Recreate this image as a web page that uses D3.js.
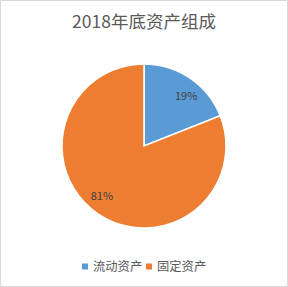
<!DOCTYPE html>
<html><head><meta charset="utf-8">
<script src="https://cdn.jsdelivr.net/npm/d3@7/dist/d3.min.js"></script>
<style>body{margin:0;background:#fff}</style>
</head><body>
<svg id="c" width="288" height="287"></svg>
<script>
const categories = ["流动资产", "固定资产"];
const values = [19, 81];
const colors = ["#5b9bd5", "#ed7d31"];
const title = "2018年底资产组成";

const svg = d3.select("#c");
const font = "'Noto Sans CJK SC', 'Microsoft YaHei', sans-serif";
svg.append("rect").attr("x",0.5).attr("y",0.5).attr("width",287).attr("height",286)
  .attr("fill","#fff").attr("stroke","#d9d9d9");
svg.append("text").attr("x",144).attr("y",28).attr("text-anchor","middle")
  .attr("font-family",font).attr("font-size",17.5).attr("fill","#595959").text(title);

const cx = 144, cy = 146, r = 82;
const pie = d3.pie().sort(null).value(d=>d)(values);
const arc = d3.arc().innerRadius(0).outerRadius(r);
const g = svg.append("g").attr("transform",`translate(${cx},${cy})`);
g.selectAll("path").data(pie).join("path").attr("d",arc)
  .attr("fill",(d,i)=>colors[i]).attr("stroke","#fff").attr("stroke-width",1.5);
const labelArc = d3.arc().innerRadius(r*0.8).outerRadius(r*0.8);
g.selectAll("text").data(pie).join("text")
  .attr("transform",d=>`translate(${labelArc.centroid({startAngle:d.startAngle+0.1,endAngle:d.endAngle+0.1})})`)
  .attr("text-anchor","middle").attr("dy","0.35em")
  .attr("font-family",font).attr("font-size",11).attr("fill","#404040")
  .text(d=>Math.round(d.data/d3.sum(values)*100)+"%");

const legend = svg.append("g").attr("transform","translate(0,267)");
const lx = [82, 146];
categories.forEach((c,i)=>{
  legend.append("rect").attr("x",lx[i]).attr("y",-3.5).attr("width",6).attr("height",6).attr("fill",colors[i]);
  legend.append("text").attr("x",lx[i]+11).attr("y",0).attr("dy","0.35em")
    .attr("font-family",font).attr("font-size",12.3).attr("fill","#595959").text(c);
});
</script>
</body></html>
